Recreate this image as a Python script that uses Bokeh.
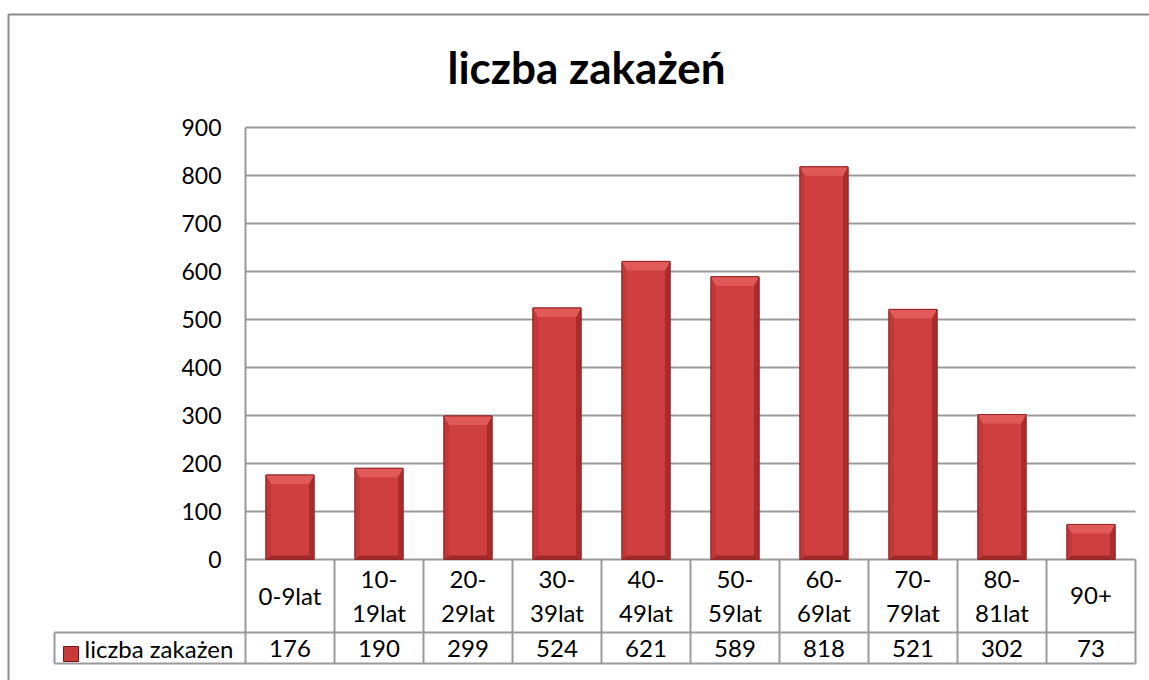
from bokeh.plotting import figure
from bokeh.models import ColumnDataSource
from bokeh.core.properties import value
from bokeh.embed import file_html
from bokeh.resources import INLINE

# ---- data ----
categories = ["0-9lat", "10-\n19lat", "20-\n29lat", "30-\n39lat", "40-\n49lat",
              "50-\n59lat", "60-\n69lat", "70-\n79lat", "80-\n81lat", "90+"]
values = [176, 190, 299, 524, 621, 589, 818, 521, 302, 73]
series_name = "liczba zakażen"
title_text = "liczba zakażeń"
y_ticks = [0, 100, 200, 300, 400, 500, 600, 700, 800, 900]

# ---- layout constants (pixels) ----
FONT = "Lato"
GRID = "#9a9a9a"
W, H = 1149, 680
X0, Y0 = 245, 559      # pixel position of (0, 0)
CAT_W = 89.0           # pixels per category
PX = 0.48              # pixels per y unit
BAR_W = 0.54


def xd(px):
    return (px - X0) / CAT_W


def yd(py):
    return (Y0 - py) / PX


n = len(categories)
p = figure(width=W, height=H, output_backend="svg", toolbar_location=None,
           x_axis_type=None, y_axis_type=None,
           x_range=(xd(0), xd(W)), y_range=(yd(H), yd(0)),
           min_border=0)
p.outline_line_color = None
p.background_fill_color = "white"
p.border_fill_color = "white"

# outer chart border
p.line(x=[xd(8), xd(8), xd(W + 20)], y=[yd(H + 20), yd(14), yd(14)],
       line_color="#8c8c8c", line_width=2)

# horizontal grid lines at the ticks
p.segment(x0=[0] * len(y_ticks), y0=y_ticks, x1=[n] * len(y_ticks), y1=y_ticks,
          line_color=GRID, line_width=2)
# y tick labels
p.text(x=[xd(X0 - 24)] * len(y_ticks), y=y_ticks, text=[str(t) for t in y_ticks],
       text_align="right", text_baseline="middle", text_font=value(FONT),
       text_font_size="23px", text_color="#000000")

xs = [i + 0.5 for i in range(n)]
src = ColumnDataSource(dict(x=xs, top=values, cat=categories,
                            val=[str(v) for v in values]))

# bars (bevelled look)
p.vbar(x="x", top="top", bottom=0, width=BAR_W, source=src,
       fill_color="#cf3f3f", line_color="#952626", line_width=1)

dx = 5 / CAT_W      # side bevel width
dy = 9 / PX         # top bevel height
db = 4 / PX         # bottom bevel height
hw = BAR_W / 2
top_x, top_y, l_x, l_y, r_x, r_y, b_x, b_y = [], [], [], [], [], [], [], []
for x, v in zip(xs, values):
    t = min(dy, v / 2)
    top_x.append([x - hw, x + hw, x + hw - dx, x - hw + dx])
    top_y.append([v, v, v - t, v - t])
    l_x.append([x - hw, x - hw + dx, x - hw + dx, x - hw])
    l_y.append([v, v - t, db, 0])
    r_x.append([x + hw, x + hw - dx, x + hw - dx, x + hw])
    r_y.append([v, v - t, db, 0])
    b_x.append([x - hw, x - hw + dx, x + hw - dx, x + hw])
    b_y.append([0, db, db, 0])
p.patches(xs=l_x, ys=l_y, fill_color="#c23737", line_color=None)
p.patches(xs=r_x, ys=r_y, fill_color="#a92c2c", line_color=None)
p.patches(xs=b_x, ys=b_y, fill_color="#9e2929", line_color=None)
p.patches(xs=top_x, ys=top_y, fill_color="#e15a5a", line_color=None)
p.vbar(x="x", top="top", bottom=0, width=BAR_W, source=src,
       fill_color=None, line_color="#952626", line_width=1)

# table geometry
row1 = yd(632)
row2 = yd(663)
leg_left = xd(54)
# vertical lines: axis line and category separators
p.segment(x0=list(range(0, n + 1)), y0=[900] + [0] * n, x1=list(range(0, n + 1)),
          y1=[row2] * (n + 1), line_color=GRID, line_width=2)
# horizontal table lines (including legend cell)
p.segment(x0=[leg_left, leg_left], y0=[row1, row2], x1=[n, n], y1=[row1, row2],
          line_color=GRID, line_width=2)
p.segment(x0=[leg_left], y0=[row1], x1=[leg_left], y1=[row2],
          line_color=GRID, line_width=2)

# table text
p.text(x="x", y=yd(595), text="cat", source=src, text_align="center",
       text_baseline="middle", text_font=value(FONT), text_font_size="24px",
       text_line_height=1.2, text_color="#000000")
p.text(x="x", y=yd(648), text="val", source=src, text_align="center",
       text_baseline="middle", text_font=value(FONT), text_font_size="24px",
       text_color="#000000")

# legend cell
p.quad(left=[xd(63)], right=[xd(78)], top=[yd(646)], bottom=[yd(661)],
       fill_color="#c83a3a", line_color="#7a1515", line_width=1)
p.text(x=[xd(84)], y=[yd(648)], text=[series_name], text_align="left",
       text_baseline="middle", text_font=value(FONT), text_font_size="24px",
       text_color="#000000")

# title
p.text(x=[xd(586)], y=[yd(66)], text=[title_text], text_align="center",
       text_baseline="middle", text_font=value(FONT), text_font_size="44px",
       text_font_style="bold", text_color="#000000")

open("out.html", "w").write(file_html(p, INLINE))
